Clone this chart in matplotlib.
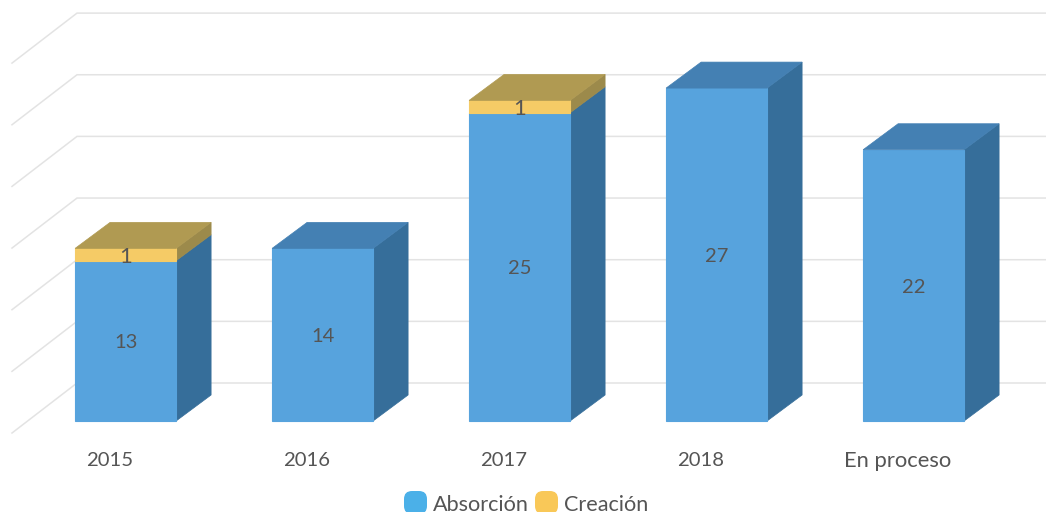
#!/usr/bin/python
# -*- coding: utf-8 -*-
# plot.py

import matplotlib
matplotlib.use("Agg")
import matplotlib.pyplot as plt
from matplotlib.patches import FancyBboxPatch, Polygon
from matplotlib.transforms import IdentityTransform

categories = ["2015", "2016", "2017", "2018", "En proceso"]
absorcion = [13, 14, 25, 27, 22]
creacion = [1, 0, 1, 0, 0]
grid_values = [0, 5, 10, 15, 20, 25, 30]

W, H = 1046, 512
PX_X = 197.0    # pixels per category
PX_Y = 12.33    # pixels per value unit
X0 = 125.6      # pixel of first bar centre
Y0 = 421.0      # pixel of value 0 on bar front (from top)

BAR_W = 101 / PX_X
DX = 35 / PX_X      # depth of bars
DY = 26 / PX_Y
WALL_X = (77 - X0) / PX_X      # back wall start
WALL_Y = (Y0 - 383) / PX_Y
FLOOR_X = (12 - X0) / PX_X     # front end of the floor lines
FLOOR_Y = (Y0 - 433) / PX_Y
RIGHT_X = (1046 - X0) / PX_X
TEXT_DROP = 2 / PX_Y           # Lato sits a bit high with va=center

GRID = "#e3e3e3"
TEXT = "#555555"
BLUE = ("#57a3dd", "#4480b3", "#366e9a")    # front, top, side
YELLOW = ("#f5cb66", "#b09a52", "#9c8a4b")

plt.rcParams['font.family'] = ['Lato', 'DejaVu Sans']

fig = plt.figure(figsize=(W / 100, H / 100), dpi=100)
fig.patch.set_facecolor('white')
ax = fig.add_axes([0, 0, 1, 1])
ax.set_xlim(-X0 / PX_X, (W - X0) / PX_X)
ax.set_ylim((Y0 - H) / PX_Y, Y0 / PX_Y)
ax.axis('off')

# Back wall lines and the diagonals on the floor side
for v in grid_values:
    ax.plot([FLOOR_X, WALL_X, RIGHT_X],
            [FLOOR_Y + v, WALL_Y + v, WALL_Y + v],
            color=GRID, lw=1.1, zorder=1, solid_joinstyle='miter')


def draw_segment(x, bottom, height, colours, top_colour, z):
    left, right = x - BAR_W / 2, x + BAR_W / 2
    top = bottom + height
    front, _, side = colours
    ax.add_patch(Polygon([(right, bottom), (right + DX, bottom + DY),
                          (right + DX, top + DY), (right, top)],
                         facecolor=side, edgecolor=side, lw=0.5, zorder=z))
    ax.add_patch(Polygon([(left, bottom), (right, bottom), (right, top), (left, top)],
                         facecolor=front, edgecolor=front, lw=0.8, zorder=z + 1))
    if top_colour is not None:
        ax.add_patch(Polygon([(left, top), (right, top),
                              (right + DX, top + DY), (left + DX, top + DY)],
                             facecolor=top_colour, edgecolor=top_colour, lw=0.5, zorder=z + 1))


# Stacked bars
for i, name in enumerate(categories):
    a, c = absorcion[i], creacion[i]
    draw_segment(i, 0, a, BLUE, None if c else BLUE[1], 3)
    ax.text(i, a / 2 - TEXT_DROP, str(a), color=TEXT, fontsize=14.5,
            ha='center', va='center', zorder=10)
    if c:
        draw_segment(i, a, c, YELLOW, YELLOW[1], 5)
        ax.text(i, a + c / 2 - TEXT_DROP, str(c), color=TEXT, fontsize=16,
                ha='center', va='center', zorder=10)
    size = 14.6 if name.isdigit() else 15.8
    ax.text(i - 16 / PX_X, (Y0 - 459) / PX_Y - TEXT_DROP, name, color=TEXT, fontsize=size,
            ha='center', va='center')

# Legend, cut off by the bottom of the picture as in the source
legend_items = [("Absorción", "#4bb0e8", 404, 433), ("Creación", "#f9c858", 535, 564)]
for label, colour, swatch_x, text_x in legend_items:
    fig.add_artist(FancyBboxPatch((swatch_x + 7, H - 514 + 7), 9, 9,
                                  boxstyle="round,pad=7,rounding_size=8",
                                  facecolor=colour, edgecolor='none',
                                  transform=IdentityTransform()))
    fig.text(text_x / W, (H - 505) / H, label, color=TEXT, fontsize=15.6, ha='left', va='center')

fig.savefig("out.png", dpi=100)
